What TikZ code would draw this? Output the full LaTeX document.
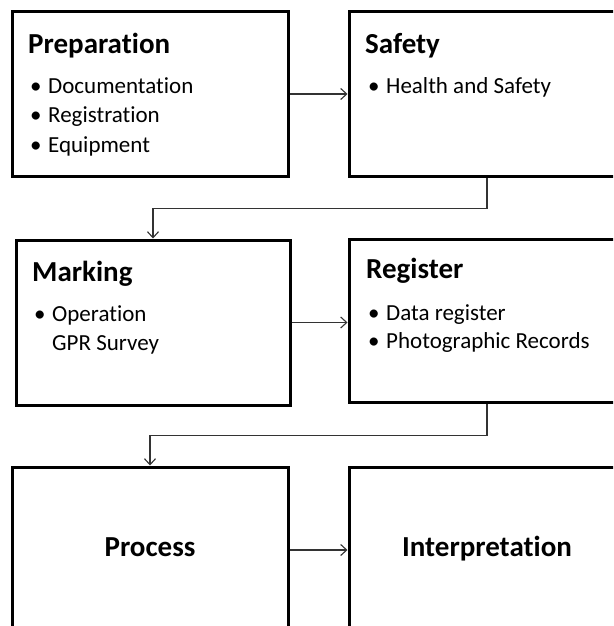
\documentclass[tikz,border=0pt]{standalone}
\usepackage{fontspec}
\setmainfont{Carlito}[Ligatures=NoCommon]
\usetikzlibrary{arrows.meta,calc}
\tikzset{
  box/.style={draw=black, line width=3pt, rectangle, inner sep=0pt, fill=white},
  ttl/.style={anchor=base west, inner sep=0pt, font=\fontsize{29}{35}\selectfont\bfseries},
  bigttl/.style={anchor=base, inner sep=0pt, font=\fontsize{29}{35}\selectfont\bfseries},
  itm/.style={anchor=base west, inner sep=0pt, font=\fontsize{23}{29}\selectfont},
  conn/.style={draw=black!80, line width=1.1pt, -{Straight Barb[length=6pt,width=11pt]}},
}
\newcommand{\bul}{\makebox[18pt][l]{•}}
\begin{document}
\begin{tikzpicture}[x=1pt,y=-1pt]
\useasboundingbox (0,0) rectangle (613,626);
\clip (0,0) rectangle (613,626);
\fill[white] (0,0) rectangle (613,626);
% boxes
\node[box, minimum width=276pt, minimum height=164pt] (prep) at (150,94) {};
\node[box, minimum width=276pt, minimum height=164pt] (safe) at (487,94) {};
\node[box, minimum width=274pt, minimum height=165pt] (mark) at (153,322.5) {};
\node[box, minimum width=276pt, minimum height=163pt] (reg) at (487,320.5) {};
\node[box, minimum width=276pt, minimum height=163pt] (proc) at (150,548.5) {};
\node[box, minimum width=276pt, minimum height=163pt] (interp) at (487,548.5) {};
% texts
\node[ttl] (t1) at (28,53) {Preparation};
\node[itm] (t1a) at (30,93) {\bul Documentation};
\node[itm] (t1b) at (30,122.5) {\bul Registration};
\node[itm] (t1c) at (30,152) {\bul Equipment};
\node[ttl] (t2) at (365,53) {Safety};
\node[itm] (t2a) at (368,93) {\bul Health and Safety};
\node[ttl] (t3) at (32,281) {Marking};
\node[itm] (t3a) at (34,321) {\bul Operation};
\node[itm] (t3b) at (34,350) {\makebox[18pt][l]{}GPR Survey};
\node[ttl] (t4) at (366,278) {Register};
\node[itm] (t4a) at (368,320) {\bul Data register};
\node[itm] (t4b) at (368,348.5) {\bul Photographic Records};
\node[bigttl] (t5) at (150,556) {Process};
\node[bigttl] (t6) at (487,556) {Interpretation};
% connectors
\draw[conn] (prep.east) -- (safe.west);
\draw[conn] (safe.south) -- ++(0,31) coordinate (c1) -| (mark.north);
\draw[conn] (mark.east) -- (mark.east -| reg.west);
\draw[conn] (reg.south) -- ++(0,32) coordinate (c2) -| (proc.north);
\draw[conn] (proc.east |- 0,550) -- (interp.west |- 0,550);
\end{tikzpicture}
\end{document}
